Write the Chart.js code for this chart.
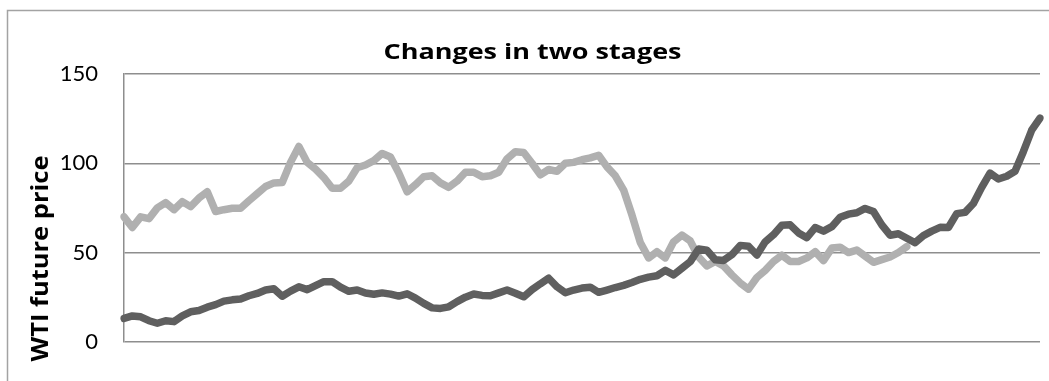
<!DOCTYPE html>
<html>
<head>
<meta charset="utf-8">
<title>Changes in two stages</title>
<script src="https://cdn.jsdelivr.net/npm/chart.js@4/dist/chart.umd.min.js"></script>
<style>
  html, body { margin: 0; padding: 0; background: #ffffff; }
  #wrap { width: 1049px; height: 381px; position: relative; }
</style>
</head>
<body>
<div id="wrap"><canvas id="chart" width="1049" height="381"></canvas></div>
<script>
// Monthly WTI futures prices, two stages
const periods = Array.from({ length: 111 }, (_, i) => 'M' + (i + 1));

// Second stage (dark) covers the full span
const stageTwo = [
  13.1, 14.5, 14, 11.8, 10.4, 11.8, 11.3, 14.5, 16.8, 17.5,
  19.4, 20.8, 22.8, 23.5, 24, 25.8, 27.1, 29, 29.7, 25.5,
  28.4, 30.8, 29.2, 31.5, 33.7, 33.7, 30.6, 28.3, 29, 27.3,
  26.6, 27.4, 26.7, 25.6, 26.9, 24.5, 21.5, 19, 18.7, 19.6,
  22.5, 25, 26.8, 26, 25.8, 27.4, 29, 27.2, 25.2, 29.2,
  32.5, 35.6, 30.8, 27.5, 29, 30.1, 30.6, 27.7, 29, 30.4,
  31.6, 33.2, 35, 36.2, 37, 40, 37.5, 41.2, 44.9, 52,
  51.3, 46, 45.6, 48.8, 54, 53.5, 48.6, 56, 60, 65.3,
  65.5, 61, 58.3, 64, 62, 64.5, 69.7, 71.5, 72.3, 74.7,
  73, 65.5, 59.7, 60.5, 58, 55.5, 59.5, 62, 64.1, 64,
  71.8, 72.5, 77.5, 86.5, 94.5, 91.2, 92.7, 95.5, 106.5, 118.5,
  125.3
];

// First stage (light) ends where the second stage takes over
const stageOne = [
  70, 64, 70, 69, 75, 78, 74, 78.5, 75.7, 80.5,
  84, 73, 74, 74.8, 74.8, 79, 83, 87, 89, 89.2,
  100.5, 109.4, 100.5, 96.7, 92, 86, 86, 90, 97.5, 99,
  101.5, 105.5, 103.5, 94.5, 84, 88, 92.5, 93, 89, 86.5,
  90, 95, 95, 92.5, 93, 95, 102.5, 106.5, 106, 100,
  93.5, 96.5, 95.5, 100, 100.5, 102, 103, 104.5, 98, 93,
  85, 71, 55.6, 47, 50.5, 47, 56, 59.8, 56.5, 47.5,
  42.5, 45, 42.5, 37.5, 33, 29.5, 36, 40, 45, 48.5,
  45, 45, 47, 50.5, 45.5, 52.5, 53, 50, 51.4, 48,
  44.5, 46, 47.5, 50, 53.3
];

const yTicks = [0, 50, 100, 150];
const chartTitle = 'Changes in two stages';
const yAxisTitle = 'WTI future price';

const GRID = '#8e8e8e';

// Draws text centred on (x, y), stretched horizontally to span `width`
function fitText(ctx, text, x, y, width) {
  const natural = ctx.measureText(text).width;
  ctx.save();
  ctx.translate(x, y);
  ctx.scale(width / natural, 1);
  ctx.textAlign = 'center';
  ctx.fillText(text, 0, 0);
  ctx.restore();
}

// Frame, title and rotated axis title
const decor = {
  id: 'decor',
  beforeDraw(chart) {
    const ctx = chart.ctx;
    ctx.save();
    ctx.fillStyle = '#ffffff';
    ctx.fillRect(0, 0, chart.width, chart.height);
    ctx.strokeStyle = '#a3a3a3';
    ctx.lineWidth = 1.5;
    ctx.beginPath();
    ctx.moveTo(7.5, chart.height + 5);
    ctx.lineTo(7.5, 10.5);
    ctx.lineTo(chart.width + 5, 10.5);
    ctx.stroke();
    ctx.restore();
  },
  afterDraw(chart) {
    const ctx = chart.ctx;
    ctx.save();
    ctx.fillStyle = '#000000';
    ctx.font = 'bold 22px "Open Sans"';
    ctx.textBaseline = 'alphabetic';
    fitText(ctx, chartTitle, 532.5, 58.5, 298);

    ctx.translate(41.5, 258.5);
    ctx.rotate(-Math.PI / 2);
    ctx.font = 'bold 24px "Open Sans"';
    ctx.textBaseline = 'middle';
    fitText(ctx, yAxisTitle, 0, 0, 206);
    ctx.restore();
  }
};

new Chart(document.getElementById('chart'), {
  type: 'line',
  data: {
    labels: periods,
    datasets: [
      {
        label: 'Stage two',
        data: stageTwo,
        borderColor: '#5f5f5f',
        borderWidth: 7.5,
        pointRadius: 0,
        tension: 0,
        borderJoinStyle: 'round',
        borderCapStyle: 'round',
        fill: false
      },
      {
        label: 'Stage one',
        data: stageOne,
        borderColor: '#b0b0b0',
        borderWidth: 7.5,
        pointRadius: 0,
        tension: 0,
        borderJoinStyle: 'round',
        borderCapStyle: 'round',
        fill: false
      }
    ]
  },
  options: {
    responsive: false,
    animation: false,
    devicePixelRatio: 1,
    layout: { padding: { top: 74, right: 9, bottom: 39, left: 0 } },
    plugins: {
      legend: { display: false },
      title: { display: false },
      tooltip: { enabled: false }
    },
    scales: {
      x: {
        type: 'category',
        display: false,
        offset: false
      },
      y: {
        min: 0,
        max: 150,
        afterFit(scale) { scale.width = 124; },
        afterBuildTicks(scale) { scale.ticks = yTicks.map(v => ({ value: v })); },
        ticks: {
          color: '#000000',
          padding: 26,
          font: { family: 'Lato', size: 22 }
        },
        grid: { color: GRID, lineWidth: 1.5, drawTicks: false },
        border: { display: true, color: GRID, width: 1.5 }
      }
    }
  },
  plugins: [decor]
});
</script>
</body>
</html>
